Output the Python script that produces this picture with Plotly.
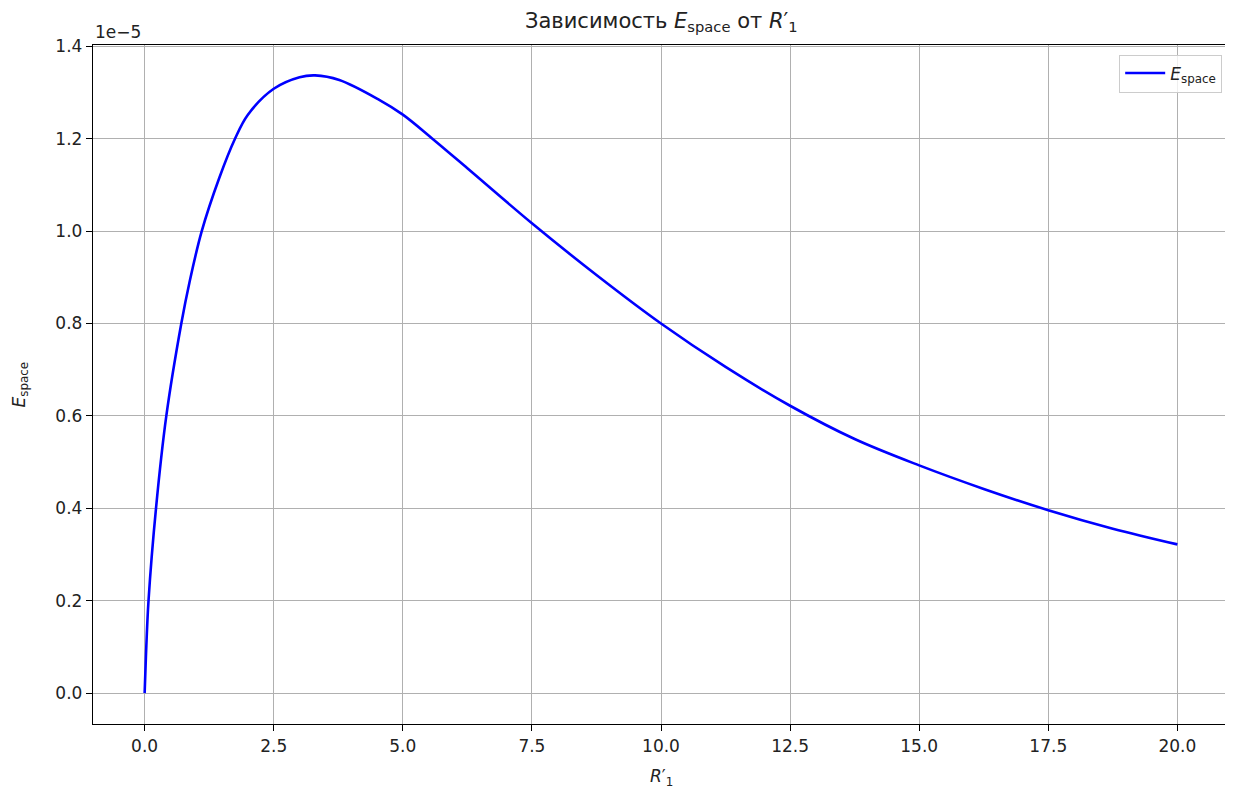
import plotly.graph_objects as go

# Data
R1 = [0.0, 0.025, 0.075, 0.22, 0.42, 0.71, 0.87, 1.106, 1.445, 1.75, 2.0, 2.5,
      3.0, 3.3, 3.77, 4.543, 5.0, 5.573, 6.25, 7.5, 8.75, 10.0, 11.25, 12.5,
      13.75, 15.0, 16.25, 17.5, 18.75, 20.0]
E_space = [0.0, 0.08e-5, 0.2e-5, 0.4e-5, 0.6e-5, 0.8e-5, 0.89e-5, 1.0e-5, 1.115e-5,
           1.2e-5, 1.252e-5, 1.308e-5, 1.333e-5, 1.337e-5, 1.327e-5, 1.284e-5,
           1.252e-5, 1.2e-5, 1.136e-5, 1.017e-5, 0.905e-5, 0.8e-5, 0.706e-5,
           0.622e-5, 0.550e-5, 0.493e-5, 0.442e-5, 0.396e-5, 0.356e-5, 0.322e-5]

x_ticks = [0.0, 2.5, 5.0, 7.5, 10.0, 12.5, 15.0, 17.5, 20.0]
y_ticks = [0.0, 0.2e-5, 0.4e-5, 0.6e-5, 0.8e-5, 1.0e-5, 1.2e-5, 1.4e-5]
y_tick_labels = ["0.0", "0.2", "0.4", "0.6", "0.8", "1.0", "1.2", "1.4"]

FONT = "DejaVu Sans"
TXT = "#222222"

fig = go.Figure()
fig.add_trace(go.Scatter(
    x=R1, y=E_space, mode="lines",
    line=dict(color="#0000ff", width=2.6, shape="spline", smoothing=1.0),
    name="<i>E</i><sub>space</sub>",
))

axis_common = dict(
    showline=True, mirror=True, linecolor="black", linewidth=1.4,
    ticks="outside", ticklen=6, tickwidth=1.4, tickcolor="black",
    showgrid=True, gridcolor="#b0b0b0", gridwidth=1.4,
    zeroline=False,
    tickfont=dict(family=FONT, size=17, color=TXT),
)

fig.update_layout(
    width=1225, height=783,
    paper_bgcolor="white", plot_bgcolor="white",
    margin=dict(l=85, r=4, t=37, b=67),
    font=dict(family=FONT, color=TXT),
    xaxis=dict(range=[-1, 21], tickvals=x_ticks, tickformat=".1f", **axis_common),
    yaxis=dict(range=[-0.0668e-5, 1.4028e-5], tickvals=y_ticks, ticktext=y_tick_labels,
               **axis_common),
    showlegend=True,
    legend=dict(
        x=0.994, y=0.986, xanchor="right", yanchor="top",
        bgcolor="rgba(255,255,255,0.8)", bordercolor="#cccccc", borderwidth=1,
        font=dict(family=FONT, size=17, color=TXT),
        entrywidth=95, itemwidth=40,
    ),
    annotations=[
        dict(text="Зависимость <i>E</i><sub>space</sub> от <i>R</i>′<sub>1</sub>",
             xref="paper", yref="paper", x=0.5, y=1, yshift=8,
             xanchor="center", yanchor="bottom", showarrow=False,
             font=dict(family=FONT, size=21, color=TXT)),
        dict(text="1e−5", xref="paper", yref="paper", x=0, y=1, yshift=1,
             xanchor="left", yanchor="bottom", showarrow=False,
             font=dict(family=FONT, size=17, color=TXT)),
        dict(text="<i>R</i>′<sub>1</sub>", xref="paper", yref="paper", x=0.5, y=0,
             yshift=-40, xanchor="center", yanchor="top", showarrow=False,
             font=dict(family=FONT, size=17, color=TXT)),
        dict(text="<i>E</i><sub>space</sub>", xref="paper", yref="paper", x=0, y=0.5,
             xshift=-73, xanchor="center", yanchor="middle", textangle=-90,
             showarrow=False, font=dict(family=FONT, size=17, color=TXT)),
    ],
)

fig.write_html("out.html")
